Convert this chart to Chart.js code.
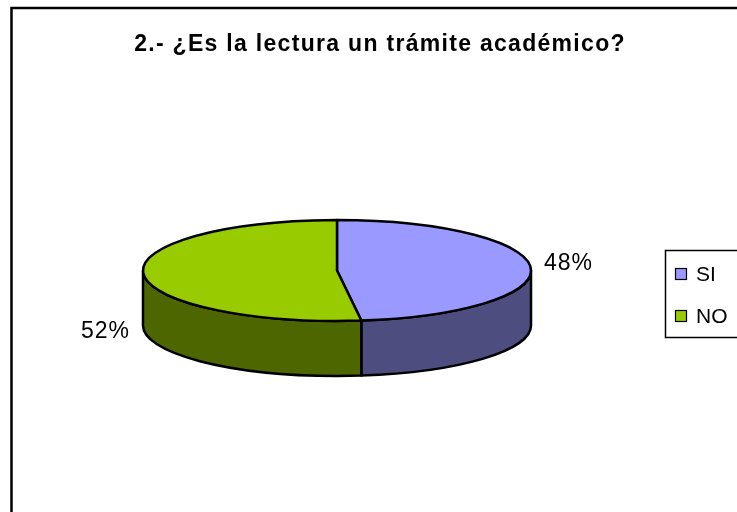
<!DOCTYPE html>
<html>
<head>
<meta charset="utf-8">
<script src="https://cdn.jsdelivr.net/npm/chart.js@4/dist/chart.umd.min.js"></script>
<style>
  body { margin: 0; background: #fff; }
  canvas { display: block; }
</style>
</head>
<body>
<canvas id="myChart" width="737" height="512"></canvas>
<script>
// data
const chartTitle = '2.- ¿Es la lectura un trámite académico?';
const categories = ['SI', 'NO'];
const values = [48, 52];

const topColors = ['#9999FF', '#99CC00'];
const sideColors = ['#4D4D80', '#4D6600'];

const FONT = '"Liberation Sans", Arial, sans-serif';
const squash = 0.26;   // height / width of the tilted pie
const depth = 55;      // thickness of the pie wall

// fake 3d: draw the arcs the library laid out as a tilted disc
const pie3d = {
  id: 'pie3d',
  beforeDraw(chart) {
    const ctx = chart.ctx;
    ctx.save();
    ctx.fillStyle = '#fff';
    ctx.fillRect(0, 0, chart.width, chart.height);
    ctx.strokeStyle = '#000';
    ctx.lineWidth = 2.5;
    ctx.strokeRect(11.5, 8, chart.width + 40, chart.height + 40);
    ctx.restore();
  },
  beforeDatasetsDraw(chart) {
    const ctx = chart.ctx;
    const arcs = chart.getDatasetMeta(0).data;
    ctx.save();
    ctx.lineWidth = 2.5;
    ctx.strokeStyle = '#000';
    ctx.lineJoin = 'round';
    // walls (front half only)
    arcs.forEach((el, i) => {
      const { x, y, startAngle, endAngle, outerRadius } = el;
      const R = outerRadius, r = outerRadius * squash;
      const a0 = Math.max(startAngle, 0);
      const a1 = Math.min(endAngle, Math.PI);
      if (a1 <= a0) return;
      ctx.beginPath();
      ctx.moveTo(x + R * Math.cos(a0), y + r * Math.sin(a0));
      ctx.ellipse(x, y, R, r, 0, a0, a1);
      ctx.lineTo(x + R * Math.cos(a1), y + r * Math.sin(a1) + depth);
      ctx.ellipse(x, y + depth, R, r, 0, a1, a0, true);
      ctx.closePath();
      ctx.fillStyle = sideColors[i];
      ctx.fill();
      ctx.stroke();
    });
    // tops
    arcs.forEach((el, i) => {
      const { x, y, startAngle, endAngle, outerRadius } = el;
      const R = outerRadius, r = outerRadius * squash;
      ctx.beginPath();
      ctx.moveTo(x, y);
      ctx.ellipse(x, y, R, r, 0, startAngle, endAngle);
      ctx.closePath();
      ctx.fillStyle = topColors[i];
      ctx.fill();
      ctx.stroke();
    });
    ctx.restore();
    return false;
  },
  afterDraw(chart) {
    const ctx = chart.ctx;
    const arcs = chart.getDatasetMeta(0).data;
    const total = values.reduce((a, b) => a + b, 0);
    ctx.save();
    ctx.fillStyle = '#000';

    // title
    ctx.font = 'bold 23px ' + FONT;
    ctx.letterSpacing = '1.3px';
    ctx.textAlign = 'center';
    ctx.textBaseline = 'alphabetic';
    ctx.fillText(chartTitle, 380, 51);

    // percent labels
    ctx.font = '23px ' + FONT;
    ctx.letterSpacing = '1px';
    ctx.textBaseline = 'middle';
    arcs.forEach((el, i) => {
      const { x, y, startAngle, endAngle, outerRadius } = el;
      const mid = (startAngle + endAngle) / 2;
      const d = outerRadius + 38;
      let ly = y + d * squash * Math.sin(mid);
      if (Math.sin(mid) > 0) ly += depth + 5;
      const lx = x + d * Math.cos(mid);
      ctx.fillText(Math.round(values[i] / total * 100) + '%', lx, ly - 3);
    });

    // legend
    ctx.letterSpacing = '0px';
    ctx.lineWidth = 1.5;
    ctx.strokeStyle = '#000';
    ctx.strokeRect(665.5, 250.5, 120, 87);
    ctx.font = '21px ' + FONT;
    ctx.textAlign = 'left';
    categories.forEach((c, i) => {
      const top = 268 + i * 42;
      ctx.fillStyle = topColors[i];
      ctx.fillRect(675.5, top + 0.5, 11, 11);
      ctx.lineWidth = 1.2;
      ctx.strokeRect(675.5, top + 0.5, 11, 11);
      ctx.fillStyle = '#000';
      ctx.fillText(c, 696, top + 7);
    });
    ctx.restore();
  }
};

new Chart(document.getElementById('myChart'), {
  type: 'pie',
  data: {
    labels: categories,
    datasets: [{
      data: values,
      backgroundColor: topColors,
      borderWidth: 0,
      radius: 194
    }]
  },
  options: {
    responsive: false,
    animation: false,
    layout: { padding: { left: 40, right: 103, top: 70, bottom: 41 } },
    plugins: {
      legend: { display: false },
      title: { display: false },
      tooltip: { enabled: false }
    }
  },
  plugins: [pie3d]
});
</script>
</body>
</html>
